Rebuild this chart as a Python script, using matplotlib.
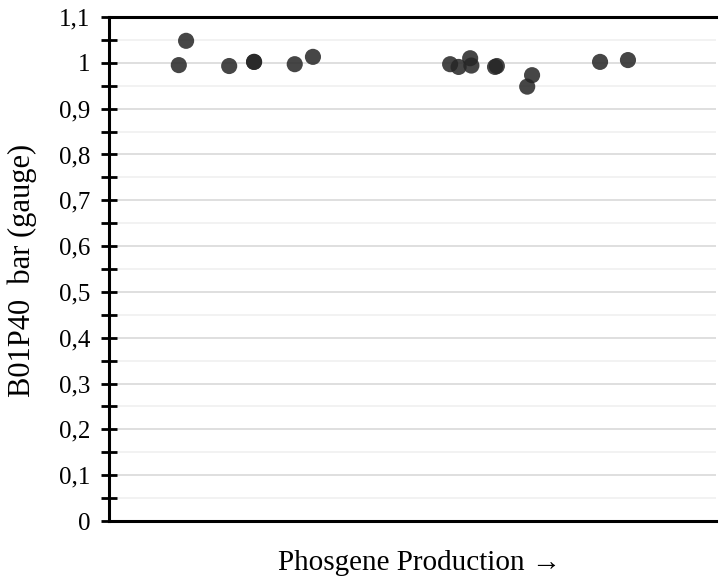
import matplotlib
matplotlib.use('Agg')
import matplotlib.pyplot as plt
from matplotlib.ticker import MultipleLocator, FuncFormatter

plt.rcParams['font.family'] = ['Liberation Serif', 'DejaVu Serif']

# position along production run (arbitrary units, 0-100)
x_pos = [11.5, 12.7, 19.8, 23.9, 23.9, 30.6, 33.6,
         56.2, 57.6, 59.5, 59.7, 63.6, 63.9, 69.7, 68.9, 80.9, 85.5]
# B01P40 pressure, bar (gauge)
pressure = [0.995, 1.048, 0.993, 1.002, 1.002, 0.997, 1.013,
            0.997, 0.991, 1.010, 0.994, 0.991, 0.993, 0.973, 0.948, 1.002, 1.006]


def comma_fmt(v, pos):
    if abs(v) < 1e-9:
        return '0'
    s = f'{v:.1f}'
    if s.endswith('.0'):
        s = s[:-2]
    return s.replace('.', ',')


fig = plt.figure(figsize=(7.19, 5.86), dpi=100)
ax = fig.add_axes([0.1516, 0.1109, 0.8442, 0.8601])

ax.scatter(x_pos, pressure, s=135, color='#262626', alpha=0.85,
           edgecolors='none', zorder=3)

ax.set_xlim(0, 100)
ax.set_ylim(0, 1.1)
ax.yaxis.set_major_locator(MultipleLocator(0.1))
ax.yaxis.set_minor_locator(MultipleLocator(0.05))
ax.yaxis.set_major_formatter(FuncFormatter(comma_fmt))
ax.set_xticks([])

ax.grid(True, which='major', axis='y', color='#d9d9d9', linewidth=1.2, zorder=0)
ax.grid(True, which='minor', axis='y', color='#f0f0f0', linewidth=1.2, zorder=0)

for side in ['left', 'top', 'bottom']:
    ax.spines[side].set_linewidth(2.2)
    ax.spines[side].set_color('black')
ax.spines['right'].set_visible(False)

ax.tick_params(axis='y', which='both', direction='inout', length=11, width=2,
               labelsize=18, pad=8)

ax.set_ylabel('B01P40  bar (gauge)', fontsize=22)
ax.yaxis.set_label_coords(-0.118, 0.497)
ax.set_xlabel('Phosgene Production \u2192', fontsize=21)
ax.xaxis.set_label_coords(0.512, -0.058)

fig.savefig('out.png', dpi=100)
